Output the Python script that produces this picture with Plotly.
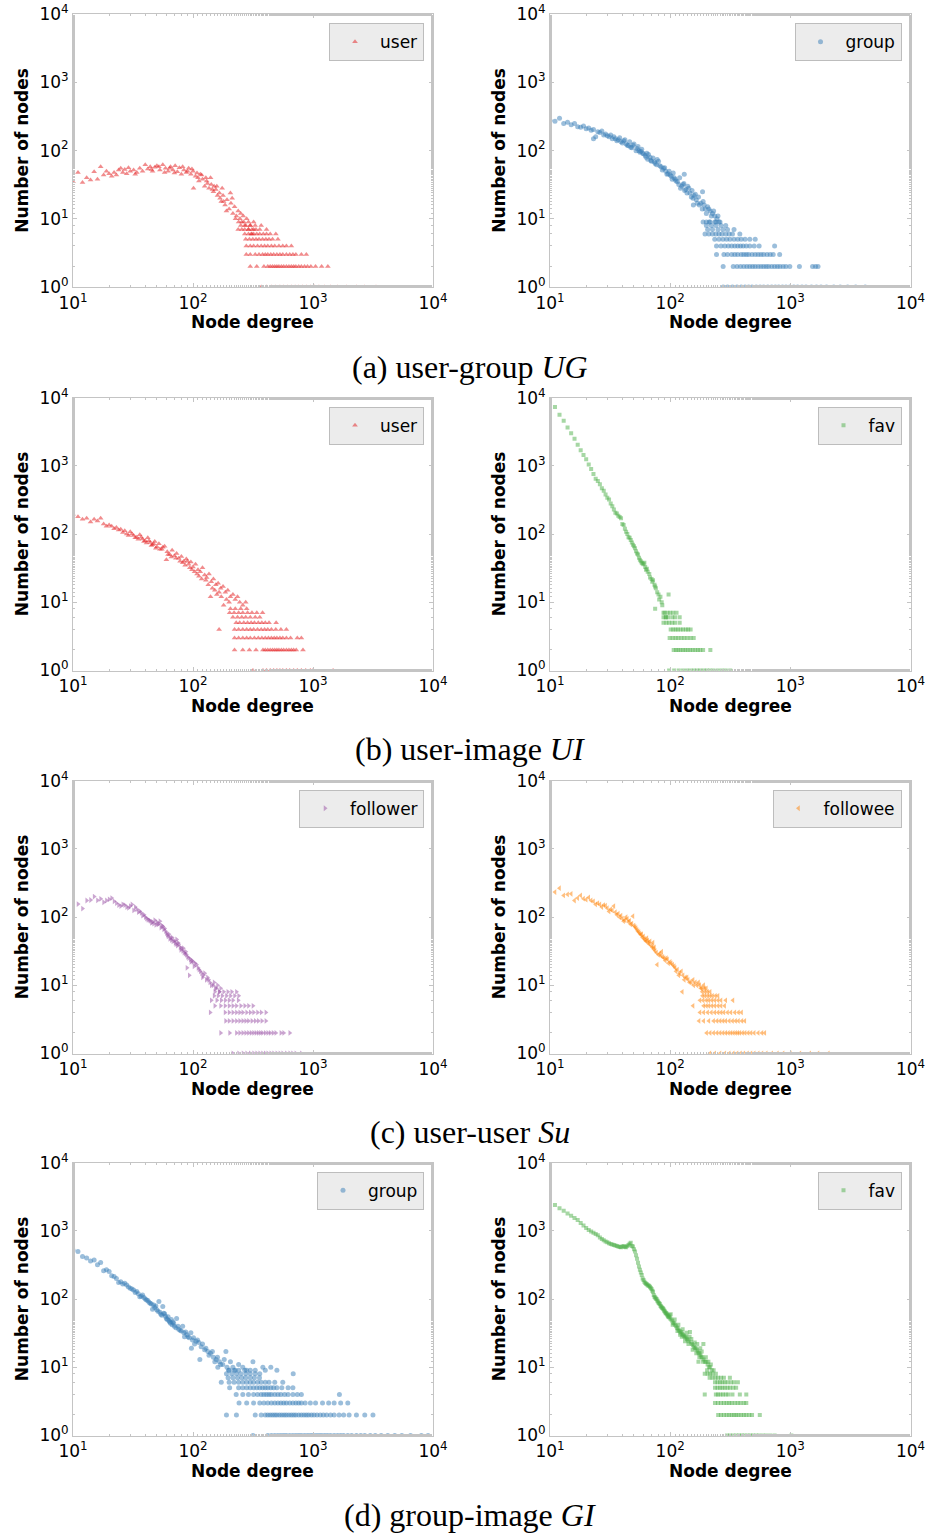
import plotly.graph_objects as go

# ---------------------------------------------------------------------------
# Degree distributions: (degree, number of nodes) pairs for the dispersed part,
# and the integer-count tails listed as degrees that share a given count.
# ---------------------------------------------------------------------------

# (a) user-group: user side
ug_user_pts = [
    (10, 35), (11, 48), (12, 34), (13, 40), (14, 37), (15, 49), (16, 38), (17, 58), (18, 44), (19, 50),
    (20, 46), (22, 48), (23, 44), (24, 52), (25, 55), (26, 48), (28, 46), (30, 50), (32, 52), (34, 48),
    (36, 55), (38, 50), (40, 62), (42, 54), (44, 58), (46, 50), (48, 57), (50, 60), (53, 52), (56, 62),
    (59, 55), (62, 50), (65, 58), (68, 52), (71, 60), (74, 49), (77, 56), (80, 45), (84, 52), (88, 48),
    (92, 55), (96, 45), (100, 50), (105, 42), (110, 40), (115, 45), (120, 38), (125, 30), (130, 36),
    (136, 28), (142, 32), (148, 25), (155, 27), (160, 22), (166, 24), (172, 18), (178, 22), (185, 16),
    (192, 19), (200, 14), (207, 17), (215, 12), (222, 15), (230, 11), (238, 13), (246, 10), (255, 9),
    (262, 11), (270, 8), (280, 10), (290, 7), (300, 8), (310, 6), (320, 7), (101, 28), (140, 40),
    (175, 28), (205, 24), (118, 44), (132, 33), (150, 30), (168, 20), (190, 13), (212, 20), (226, 10),
    (250, 12), (21, 42), (27, 53), (29, 56), (33, 45), (45, 53), (52, 58), (58, 48), (64, 55), (70, 47),
    (82, 58), (90, 50), (98, 54), (108, 47), (112, 36), (128, 40), (145, 27), (158, 30), (180, 18),
]
ug_user_tail_counts = [9, 8, 7, 6, 5, 4, 3, 2, 1]
ug_user_tail_degrees = [
    [240, 265, 290, 320],
    [250, 275, 300, 330, 370],
    [238, 255, 270, 290, 310, 335, 360, 410],
    [270, 290, 305, 320, 340, 360, 385, 410, 440, 490],
    [275, 295, 315, 335, 355, 380, 405, 430, 460, 510],
    [278, 300, 320, 345, 370, 395, 420, 450, 480, 520, 560, 600, 660],
    [278, 300, 330, 355, 380, 400, 420, 445, 470, 500, 530, 560, 600, 640, 680, 720, 800, 880],
    [300, 340, 390, 420, 440, 460, 480, 500, 520, 545, 570, 600, 630, 660, 690, 720, 760, 800,
     850, 900, 960, 1050, 1180, 1330],
    [370, 410, 450, 490, 530, 570, 610, 660, 710, 760, 820, 880, 950, 1030, 1120, 1250, 1400,
     1600, 1900, 2300, 2700, 3350],
]

# (a) user-group: group side
ug_group_pts = [
    (10, 280), (11, 270), (12, 300), (13, 250), (14, 260), (15, 240), (16, 250), (17, 225), (18, 220),
    (19, 230), (20, 210), (21, 215), (22, 200), (23, 205), (24, 160), (25, 190), (26, 185), (27, 195),
    (28, 170), (30, 165), (32, 170), (33, 150), (34, 160), (36, 140), (38, 155), (40, 130), (42, 145),
    (44, 120), (46, 135), (48, 110), (50, 125), (52, 100), (54, 115), (56, 95), (58, 105), (60, 90),
    (63, 80), (66, 88), (69, 72), (72, 78), (75, 65), (78, 74), (82, 60), (86, 52), (90, 56), (94, 45),
    (98, 50), (102, 42), (106, 47), (110, 38), (115, 35), (120, 40), (125, 30), (130, 33), (135, 27),
    (140, 30), (146, 24), (152, 26), (158, 22), (165, 19), (172, 21), (180, 17), (188, 18), (196, 14),
    (205, 15), (215, 13), (225, 12), (235, 11), (245, 10), (255, 9), (29, 175), (31, 160), (35, 150),
    (37, 145), (39, 135), (41, 140), (43, 125), (45, 118), (47, 112), (49, 120), (53, 108), (55, 100),
    (57, 98), (59, 92), (62, 85), (64, 92), (65, 75), (68, 80), (70, 70), (74, 68), (77, 62), (80, 70),
    (84, 58), (88, 55), (92, 50), (96, 46), (100, 44), (104, 38), (108, 40), (112, 36), (118, 32),
    (122, 28), (128, 32), (132, 26), (138, 24), (143, 28), (150, 21), (155, 20), (162, 23), (168, 17),
    (175, 16), (185, 14), (192, 16), (200, 12), (210, 14), (220, 11), (230, 13), (240, 9), (250, 11),
    (131, 45), (156, 16), (186, 25), (211, 9), (23, 150),
]
ug_group_tail_counts = [9, 8, 7, 6, 5, 4, 3, 2, 1]
ug_group_tail_degrees = [
    [188, 200, 215, 235, 260],
    [200, 220, 240, 265, 290],
    [205, 225, 250, 275, 300, 340],
    [195, 210, 225, 240, 255, 270, 290, 310, 330, 380],
    [235, 255, 275, 295, 315, 340, 365, 390, 420, 460, 510],
    [243, 265, 285, 305, 325, 345, 365, 385, 405, 430, 460, 500, 550, 740],
    [243, 280, 300, 325, 345, 365, 390, 410, 430, 450, 480, 510, 540, 570, 600, 640, 680, 720, 815],
    [276, 335, 360, 385, 410, 435, 460, 485, 510, 540, 570, 600, 630, 660, 700, 740, 780, 820, 870,
     920, 990, 1190, 1530, 1620, 1700],
    [276, 300, 330, 360, 390, 420, 450, 480, 520, 560, 600, 650, 700, 750, 800, 860, 920, 990, 1070,
     1150, 1250, 1350, 1500, 1650, 1800, 2000, 2300, 2600, 3000, 3500, 4200],
]

# (b) user-image: user side
ui_user_pts = [
    (10, 195), (11, 180), (12, 165), (13, 170), (14, 150), (15, 165), (16, 155), (17, 170), (18, 140),
    (19, 130), (20, 136), (21, 130), (22, 120), (23, 125), (24, 115), (25, 118), (26, 105), (27, 112),
    (28, 100), (30, 108), (32, 95), (34, 90), (36, 98), (38, 85), (40, 80), (42, 88), (44, 75), (46, 70),
    (48, 78), (50, 65), (52, 72), (55, 60), (58, 66), (61, 55), (64, 50), (67, 58), (70, 48), (73, 52),
    (76, 44), (80, 47), (84, 40), (88, 43), (92, 36), (96, 39), (100, 33), (105, 36), (110, 30),
    (115, 28), (120, 32), (125, 25), (130, 23), (136, 26), (142, 20), (148, 22), (155, 18), (162, 19),
    (170, 16), (178, 17), (186, 14), (195, 15), (205, 12), (215, 13), (225, 11), (235, 12), (245, 10),
    (260, 9), (275, 10), (60, 42), (140, 12), (165, 14), (180, 9), (29, 95), (31, 100), (33, 88),
    (35, 84), (37, 90), (39, 78), (41, 74), (43, 80), (45, 68), (47, 72), (49, 62), (53, 60), (56, 64),
    (62, 50), (66, 46), (72, 44), (78, 40), (82, 38), (86, 35), (90, 40), (94, 32), (98, 30), (103, 28),
    (108, 26), (112, 24), (118, 22), (128, 21), (134, 18), (145, 16), (152, 15), (158, 13), (172, 12),
    (190, 11), (200, 10),
]
ui_user_tail_counts = [8, 7, 6, 5, 4, 3, 2, 1]
ui_user_tail_degrees = [
    [205, 225, 250, 280],
    [202, 220, 240, 260, 285, 310, 340, 380],
    [215, 235, 255, 275, 300, 330, 360],
    [229, 245, 265, 285, 305, 325, 350, 375, 400, 430, 493],
    [165, 222, 240, 260, 280, 300, 320, 345, 370, 395, 420, 450, 490, 540, 600],
    [222, 240, 260, 280, 300, 325, 350, 375, 400, 425, 450, 475, 500, 530, 560, 600, 650, 740, 800],
    [222, 260, 295, 335, 383, 400, 420, 440, 460, 480, 500, 520, 545, 570, 600, 630, 660, 690, 725, 825],
    [316, 383, 410, 440, 470, 500, 530, 560, 600, 640, 690, 740, 800, 870, 950, 1000, 1470],
]

# (b) user-image: fav side
ui_fav_pts = [
    (10, 9500), (11, 7300), (12, 5600), (13, 4600), (14, 3650), (15, 3000), (16, 2500), (17, 2050),
    (18, 1700), (19, 1450), (20, 1250), (21, 1050), (22, 900), (23, 760), (24, 650), (25, 600),
    (26, 540), (27, 470), (28, 430), (29, 380), (30, 340), (31, 320), (32, 280), (33, 255), (34, 230),
    (35, 205), (36, 200), (37, 185), (38, 178), (39, 170), (40, 140), (41, 136), (42, 120), (43, 108),
    (44, 100), (45, 90), (46, 88), (47, 82), (48, 75), (49, 70), (50, 66), (51, 62), (52, 56), (53, 52),
    (54, 50), (55, 45), (56, 42), (57, 40), (58, 38), (59, 37), (60, 36), (61, 38), (62, 33), (63, 30),
    (64, 31), (65, 28), (67, 26), (68, 23), (70, 22), (71, 20), (72, 21), (74, 18), (75, 17), (76, 16),
    (78, 14), (80, 13), (81, 11), (83, 12), (85, 10), (86, 9), (97, 13), (75, 8), (92, 6), (88, 7),
]
ui_fav_tail_counts = [7, 6, 5, 4, 3, 2, 1]
ui_fav_tail_degrees = [
    [90, 95, 100, 106, 113],
    [88, 92, 96, 104, 110, 120],
    [88, 93, 98, 104, 110, 120],
    [101, 106, 111, 116, 122, 128, 135, 141, 148],
    [99, 105, 111, 117, 124, 131, 139, 148, 157],
    [107, 112, 117, 122, 128, 134, 140, 147, 154, 162, 170, 178, 188, 216],
    [98, 108, 118, 128, 138, 148, 158, 168, 178, 190, 202, 215, 230, 250, 270, 290, 316],
]

# (c) user-user: follower side
su_follower_pts = [
    (11, 155), (12, 133), (13, 175), (14, 178), (15, 200), (16, 176), (18, 165), (19, 175), (21, 190),
    (22, 170), (24, 150), (26, 154), (29, 136), (31, 153), (34, 130), (36, 122), (39, 108), (42, 92),
    (45, 82), (49, 77), (53, 87), (56, 73), (59, 62), (62, 52), (65, 50), (68, 44), (73, 47), (76, 40),
    (80, 35), (84, 30), (88, 28), (92, 25), (96, 22), (100, 22), (107, 20), (112, 17), (118, 15),
    (122, 14), (129, 12), (138, 11), (147, 10), (157, 9), (166, 8), (89, 18), (93, 14), (17, 185),
    (20, 182), (23, 160), (25, 145), (27, 150), (28, 140), (30, 145), (32, 125), (33, 140), (35, 118),
    (37, 115), (38, 105), (40, 100), (41, 95), (43, 90), (44, 88), (46, 85), (47, 80), (48, 90),
    (50, 84), (51, 78), (52, 80), (54, 70), (55, 75), (57, 66), (58, 68), (60, 58), (61, 55), (63, 56),
    (64, 48), (66, 46), (67, 50), (70, 45), (71, 42), (72, 40), (74, 38), (75, 42), (78, 36), (79, 33),
    (82, 32), (83, 35), (86, 29), (87, 31), (90, 26), (95, 24), (98, 23), (102, 19), (104, 21),
    (110, 18), (115, 16), (120, 13), (125, 15), (132, 13), (135, 12), (142, 10), (150, 11), (153, 9),
    (160, 10), (170, 9),
]
su_follower_tail_counts = [8, 7, 6, 5, 4, 3, 2, 1]
su_follower_tail_degrees = [
    [152, 165, 180, 195, 210, 230],
    [150, 162, 175, 190, 205, 222, 240],
    [142, 158, 172, 186, 200, 215, 238],
    [152, 170, 185, 200, 215, 230, 250, 270, 290, 316],
    [139, 185, 200, 215, 230, 245, 260, 280, 300, 320, 345, 370, 405],
    [187, 200, 215, 230, 245, 260, 275, 290, 310, 330, 350, 375, 405],
    [170, 202, 230, 245, 260, 275, 290, 305, 320, 335, 350, 365, 380, 400, 420, 440, 465, 490, 540,
     570, 640],
    [215, 240, 261, 280, 300, 320, 340, 360, 380, 400, 420, 445, 470, 500, 530, 560, 600, 640, 676,
     720, 800],
]

# (c) user-user: followee side
su_followee_pts = [
    (10, 219), (11, 233), (12, 265), (13, 208), (14, 215), (15, 219), (16, 175), (18, 208), (19, 186),
    (21, 194), (23, 170), (24, 153), (26, 153), (29, 147), (31, 121), (34, 145), (36, 108), (38, 99),
    (41, 87), (44, 94), (47, 78), (49, 103), (52, 69), (56, 57), (60, 52), (64, 49), (68, 44), (72, 42),
    (75, 32), (80, 28), (85, 31), (89, 25), (95, 24), (100, 22), (105, 20), (110, 18), (115, 17),
    (120, 15), (128, 14), (134, 13), (141, 12), (150, 11), (157, 10), (167, 10), (176, 10), (184, 9),
    (193, 9), (78, 20), (126, 8), (17, 190), (20, 180), (22, 175), (25, 160), (27, 140), (28, 150),
    (30, 135), (32, 130), (33, 125), (35, 118), (37, 112), (39, 105), (40, 95), (42, 90), (43, 100),
    (45, 85), (46, 88), (48, 80), (50, 75), (51, 72), (53, 65), (54, 62), (55, 60), (57, 55), (58, 56),
    (59, 50), (61, 48), (62, 46), (63, 44), (65, 45), (66, 42), (67, 40), (70, 38), (71, 36), (73, 34),
    (74, 36), (77, 30), (82, 29), (84, 27), (87, 26), (91, 23), (93, 25), (97, 21), (102, 21),
    (108, 19), (112, 16), (118, 14), (124, 16), (131, 12), (138, 13), (145, 11), (155, 12), (162, 11),
    (172, 11), (180, 9), (190, 10), (200, 9),
]
su_followee_tail_counts = [8, 7, 6, 5, 4, 3, 2, 1]
su_followee_tail_degrees = [
    [185, 195, 205, 215],
    [186, 195, 205, 215, 225, 238, 250],
    [177, 188, 200, 210, 222, 235, 250, 265, 290, 333],
    [155, 190, 200, 210, 222, 235, 250, 265, 284],
    [177, 190, 205, 220, 235, 250, 265, 280, 300, 320, 345, 370, 393],
    [174, 190, 210, 230, 245, 260, 275, 290, 310, 330, 350, 370, 395, 418],
    [201, 215, 230, 245, 260, 275, 290, 305, 320, 335, 350, 365, 380, 400, 420, 445, 470, 500, 540,
     580, 613],
    [214, 235, 260, 285, 310, 335, 360, 385, 410, 440, 470, 500, 540, 580, 630, 700, 780, 870, 1000,
     1200, 1450, 1700, 2070],
]

# (d) group-image: group side
gi_group_pts = [
    (10, 524), (11, 498), (12, 420), (13, 400), (14, 362), (15, 374), (16, 318), (17, 343), (18, 260),
    (20, 253), (21, 219), (22, 215), (24, 175), (26, 166), (28, 161), (30, 144), (32, 136), (34, 129),
    (36, 108), (38, 115), (41, 97), (44, 87), (46, 71), (49, 79), (52, 92), (56, 78), (58, 61),
    (62, 55), (66, 50), (69, 44), (73, 52), (78, 35), (82, 40), (87, 33), (91, 28), (96, 32), (101, 27),
    (106, 24), (112, 23), (117, 20), (125, 18), (133, 17), (140, 16), (148, 14), (156, 13), (166, 12),
    (177, 11), (188, 17), (198, 9), (215, 10), (97, 19), (114, 13), (161, 10), (316, 12), (382, 10),
    (445, 10), (500, 9), (684, 8), (1660, 4), (19, 270), (23, 200), (25, 180), (27, 170), (29, 150),
    (31, 140), (33, 125), (35, 120), (37, 110), (39, 105), (40, 100), (42, 95), (43, 90), (45, 85),
    (47, 82), (48, 75), (50, 70), (51, 66), (53, 64), (54, 60), (55, 58), (57, 62), (59, 56), (60, 52),
    (61, 50), (63, 48), (64, 46), (65, 44), (67, 42), (68, 46), (70, 40), (72, 38), (75, 40), (76, 36),
    (80, 34), (84, 32), (85, 28), (89, 30), (93, 27), (99, 25), (103, 22), (109, 25), (120, 22),
    (128, 19), (136, 15), (145, 17), (152, 12), (160, 14), (170, 11), (182, 13), (192, 10), (205, 12),
    (225, 9), (240, 11), (260, 10), (280, 9),
]
gi_group_tail_counts = [9, 8, 7, 6, 5, 4, 3, 2, 1]
gi_group_tail_degrees = [
    [200, 220, 240, 270, 300, 330, 400],
    [190, 210, 230, 250, 275, 300, 330, 360],
    [196, 215, 235, 255, 275, 300, 325, 358],
    [172, 200, 220, 240, 260, 280, 300, 320, 345, 370, 400, 430, 480, 560],
    [202, 240, 260, 280, 300, 320, 340, 360, 380, 400, 420, 445, 470, 500, 550, 620, 680],
    [229, 260, 290, 320, 345, 370, 390, 410, 430, 450, 480, 510, 540, 580, 620, 680, 740, 800],
    [242, 280, 320, 360, 390, 420, 450, 480, 510, 540, 570, 600, 640, 680, 720, 760, 800, 860, 950,
     1050, 1200, 1350, 1500, 1700, 1950],
    [190, 230, 330, 370, 400, 420, 440, 460, 480, 500, 525, 550, 575, 600, 630, 660, 690, 720, 760,
     800, 840, 880, 920, 970, 1020, 1080, 1150, 1220, 1300, 1400, 1500, 1650, 1800, 2000, 2300, 2700,
     3160],
    [316, 420, 450, 480, 510, 540, 570, 600, 640, 680, 720, 760, 800, 850, 900, 950, 1000, 1060, 1120,
     1180, 1250, 1320, 1400, 1500, 1600, 1700, 1800, 1950, 2100, 2300, 2500, 2700, 3000, 3300, 3700,
     4200, 4800, 5500, 6500, 8000, 9100],
]

# (d) group-image: fav side
gi_fav_pts = [
    (10, 2775), (11, 2400), (12, 2150), (13, 1980), (14, 1800), (15, 1660), (16, 1550), (17, 1450),
    (18, 1300), (19, 1200), (20, 1100), (21, 1030), (22, 980), (23, 940), (24, 900), (25, 860),
    (26, 800), (27, 760), (28, 730), (29, 700), (30, 680), (31, 660), (32, 640), (33, 630), (34, 620),
    (35, 610), (36, 600), (37, 590), (38, 580), (39, 575), (40, 590), (41, 600), (42, 580), (43, 575),
    (44, 600), (45, 620), (46, 650), (47, 670), (48, 600), (49, 590), (50, 540), (51, 500), (52, 440),
    (53, 390), (54, 340), (55, 300), (56, 270), (57, 245), (58, 225), (59, 200), (60, 190), (61, 180),
    (62, 172), (63, 168), (64, 165), (65, 160), (66, 158), (67, 155), (68, 150), (69, 145), (70, 140),
    (71, 132), (72, 128), (73, 115), (74, 108), (75, 105), (76, 102), (77, 100), (78, 95), (79, 92),
    (80, 88), (81, 87), (82, 85), (83, 80), (84, 78), (85, 76), (86, 74), (87, 73), (88, 71), (89, 68),
    (90, 66), (91, 64), (92, 62), (93, 62), (94, 60), (95, 58), (96, 56), (97, 55), (98, 54), (99, 58),
    (100, 52), (102, 50), (104, 48), (106, 45), (108, 44), (110, 42), (112, 40), (114, 38), (116, 37),
    (118, 35), (120, 34), (122, 32), (124, 33), (126, 31), (128, 30), (130, 29), (132, 28), (134, 27),
    (136, 28), (138, 26), (140, 25), (143, 24), (146, 33), (149, 23), (152, 22), (155, 21), (158, 20),
    (161, 19), (164, 19), (167, 18), (170, 17), (173, 16), (176, 16), (179, 15), (182, 14), (185, 14),
    (189, 22), (190, 13), (195, 12), (200, 12), (205, 11), (210, 10), (215, 10), (222, 9), (172, 12),
    (194, 8), (121, 30), (101, 60), (105, 42), (109, 50), (115, 34), (117, 42), (125, 28), (127, 36),
    (133, 24), (137, 32), (142, 22), (145, 28), (150, 26), (154, 18), (160, 23), (165, 16), (168, 22),
    (175, 14), (178, 19), (183, 17), (188, 12), (198, 14), (203, 9), (208, 12), (218, 11), (230, 9),
]
gi_fav_tail_counts = [8, 7, 6, 5, 4, 3, 2, 1]
gi_fav_tail_degrees = [
    [205, 215, 225, 240],
    [213, 225, 238, 250, 265, 280, 314],
    [236, 248, 260, 272, 285, 300, 320, 340, 366],
    [236, 248, 260, 272, 285, 300, 315, 335, 354],
    [194, 240, 250, 262, 275, 290, 305, 330, 380, 430],
    [236, 250, 265, 280, 295, 310, 325, 345, 365, 385, 410, 430],
    [251, 265, 280, 295, 310, 325, 340, 355, 370, 390, 410, 430, 455, 480, 557],
    [297, 315, 335, 355, 375, 395, 415, 440, 465, 490, 520, 550, 590, 630, 680, 740, 1020],
]

captions = [
    "(a) user-group <i>UG</i>",
    "(b) user-image <i>UI</i>",
    "(c) user-user <i>Su</i>",
    "(d) group-image <i>GI</i>",
]

# name, points, tail counts, tail degrees, colour, marker symbol, marker size
panels = [
    ("user", ug_user_pts, ug_user_tail_counts, ug_user_tail_degrees, "#e41a1c", "triangle-up", 5),
    ("group", ug_group_pts, ug_group_tail_counts, ug_group_tail_degrees, "#377eb8", "circle", 5),
    ("user", ui_user_pts, ui_user_tail_counts, ui_user_tail_degrees, "#e41a1c", "triangle-up", 5),
    ("fav", ui_fav_pts, ui_fav_tail_counts, ui_fav_tail_degrees, "#4daf4a", "square", 4),
    ("follower", su_follower_pts, su_follower_tail_counts, su_follower_tail_degrees, "#984ea3", "triangle-right", 5),
    ("followee", su_followee_pts, su_followee_tail_counts, su_followee_tail_degrees, "#ff7f00", "triangle-left", 5),
    ("group", gi_group_pts, gi_group_tail_counts, gi_group_tail_degrees, "#377eb8", "circle", 5),
    ("fav", gi_fav_pts, gi_fav_tail_counts, gi_fav_tail_degrees, "#4daf4a", "square", 4),
]

# ---------------------------------------------------------------------------
# Layout geometry (pixels in a 925 x 1535 page)
# ---------------------------------------------------------------------------
W, H = 925, 1535
col_x = [(73, 433), (550, 910.5)]
row_y = [(14.3, 287.3), (397.7, 670.7), (780.7, 1053.7), (1162.7, 1435.7)]
caption_y = [367, 749, 1132, 1515]
caption_x = 470

tick_font = dict(family="DejaVu Sans", size=17, color="black")
title_font = dict(family="DejaVu Sans", size=17, color="black", weight="bold")
frame = "#c4c4c4"

fig = go.Figure()
layout = dict(
    width=W, height=H, margin=dict(l=0, r=0, t=0, b=0, autoexpand=False),
    paper_bgcolor="white", plot_bgcolor="white", showlegend=True,
)
annotations = []

for i, (name, pts, tcounts, tdegs, color, symbol, msize) in enumerate(panels):
    r, c = divmod(i, 2)
    k = i + 1
    xs = [p[0] for p in pts]
    ys = [p[1] for p in pts]
    for cnt, degs in zip(tcounts, tdegs):
        xs.extend(degs)
        ys.extend([cnt] * len(degs))

    suffix = "" if k == 1 else str(k)
    fig.add_trace(go.Scatter(
        x=xs, y=ys, mode="markers", name=name,
        xaxis="x" + suffix, yaxis="y" + suffix,
        legend="legend" + suffix,
        marker=dict(symbol=symbol, size=msize, color=color, opacity=0.5, line=dict(width=0)),
        hoverinfo="skip",
    ))

    x0, x1 = col_x[c]
    y0, y1 = row_y[r]
    xdom = [x0 / W, x1 / W]
    ydom = [1 - y1 / H, 1 - y0 / H]

    axis_common = dict(
        type="log", showgrid=False, zeroline=False, automargin=False,
        showline=True, linecolor=frame, linewidth=1, mirror="ticks",
        ticks="inside", ticklen=4, tickcolor=frame, tickwidth=1,
        minor=dict(ticks="inside", ticklen=2, tickcolor=frame, showgrid=False),
        tickfont=tick_font, ticklabeloverflow="allow",
    )
    layout["xaxis" + suffix] = dict(
        axis_common, domain=xdom, range=[1, 4], anchor="y" + suffix,
        tickvals=[10, 100, 1000, 10000],
        ticktext=["10<sup>1</sup>", "10<sup>2</sup>", "10<sup>3</sup>", "10<sup>4</sup>"],
    )
    layout["yaxis" + suffix] = dict(
        axis_common, domain=ydom, range=[-0.004, 4], anchor="x" + suffix,
        tickvals=[1, 10, 100, 1000, 10000],
        ticktext=["10<sup>0</sup>", "10<sup>1</sup>", "10<sup>2</sup>", "10<sup>3</sup>", "10<sup>4</sup>"],
    )
    layout["legend" + suffix] = dict(
        x=(x1 - 9) / W, y=1 - (y0 + 9) / H, xanchor="right", yanchor="top",
        bgcolor="#ececec", bordercolor="#bdbdbd", borderwidth=1,
        font=dict(family="DejaVu Sans", size=17, color="black"),
        itemwidth=40,
    )

    annotations.append(dict(
        text="Node degree", x=(x0 + x1) / 2 / W, y=1 - (y1 + 35) / H,
        xref="paper", yref="paper", showarrow=False, font=title_font,
        xanchor="center", yanchor="middle",
    ))
    annotations.append(dict(
        text="Number of nodes", x=(x0 - 51) / W, y=1 - (y0 + y1) / 2 / H,
        xref="paper", yref="paper", showarrow=False, font=title_font, textangle=-90,
        xanchor="center", yanchor="middle",
    ))

for r, cap in enumerate(captions):
    annotations.append(dict(
        text=cap, x=caption_x / W, y=1 - caption_y[r] / H, xref="paper", yref="paper",
        showarrow=False, font=dict(family="Liberation Serif", size=32, color="black"),
        xanchor="center", yanchor="middle",
    ))

layout["annotations"] = annotations
fig.update_layout(**layout)
fig.write_html("out.html")
